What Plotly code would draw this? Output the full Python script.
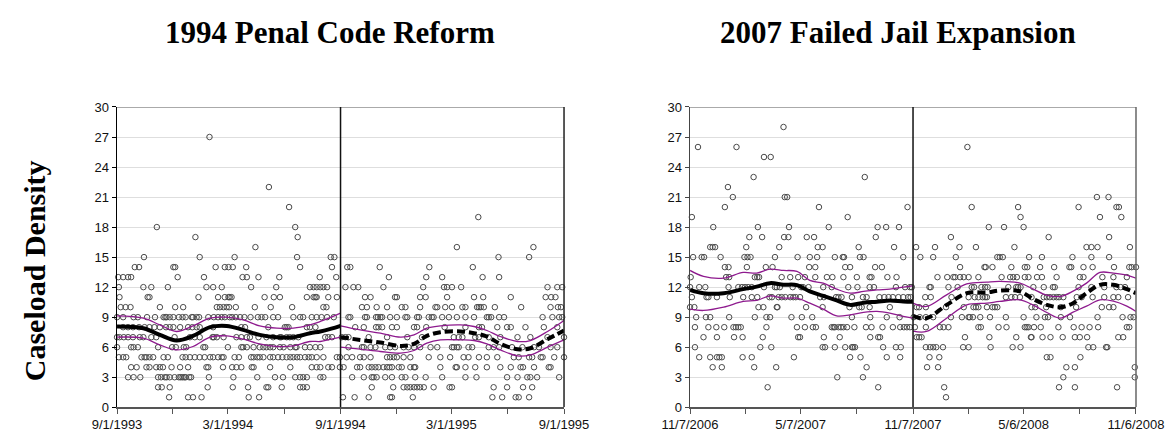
import pandas as pd
import plotly.graph_objects as go

# ---------------- data (day offsets from panel start, integer caseload values) ----------------
LEFT_START, LEFT_END, LEFT_CUT = "1993-09-01", "1995-09-01", "1994-09-01"
RIGHT_START, RIGHT_END, RIGHT_CUT = "2006-11-07", "2008-11-06", "2007-11-07"

left_points = {
    27: [151], 22: [248], 20: [281], 19: [590], 18: [65, 291], 17: [128, 295],
    16: [226, 555, 680],
    15: [44, 135, 192, 294, 349, 355, 623, 673],
    14: [29, 36, 92, 95, 161, 176, 182, 189, 211, 299, 351, 376, 381, 429, 510, 581],
    13: [2, 10, 18, 23, 99, 142, 205, 212, 231, 265, 331, 358, 444, 505, 531, 597, 624],
    12: [3, 43, 56, 83, 146, 157, 171, 219, 260, 315, 321, 326, 332, 337, 343, 373, 386, 394,
         435, 500, 534, 539, 547, 562, 703, 719, 727],
    11: [4, 50, 53, 133, 165, 176, 182, 184, 187, 241, 256, 266, 310, 321, 324, 326, 345, 359,
         405, 414, 454, 457, 495, 504, 539, 583, 598, 643, 700, 709, 716],
    10: [6, 14, 22, 70, 95, 108, 163, 168, 174, 179, 183, 194, 225, 251, 286, 337, 342, 400, 408,
         424, 441, 465, 471, 495, 520, 523, 536, 547, 564, 569, 588, 591, 594, 599, 617, 660, 708,
         720, 725],
    9: [0, 10, 27, 34, 49, 62, 76, 79, 81, 86, 92, 101, 107, 112, 122, 124, 130, 134, 149, 158,
        165, 171, 176, 184, 188, 194, 201, 208, 218, 230, 236, 242, 255, 263, 288, 299, 304, 318,
        326, 334, 343, 354, 378, 381, 405, 408, 423, 426, 430, 433, 446, 457, 471, 474, 490, 493,
        509, 514, 517, 531, 542, 555, 569, 583, 604, 607, 611, 624, 632, 695, 711, 722, 727],
    8: [10, 18, 26, 36, 45, 53, 61, 70, 80, 86, 92, 103, 116, 123, 130, 135, 157, 203, 209, 247,
        274, 277, 280, 310, 315, 324, 389, 403, 423, 427, 433, 449, 457, 485, 490, 505, 535, 569,
        591, 596, 621, 637, 643, 667, 697, 719],
    7: [0, 4, 11, 18, 26, 37, 43, 56, 64, 94, 119, 127, 135, 156, 158, 163, 174, 195, 203, 212,
        217, 231, 244, 255, 266, 268, 277, 282, 288, 296, 340, 345, 351, 367, 373, 378, 411, 441,
        474, 498, 550, 558, 564, 585, 591, 607, 626, 654, 675, 703, 730],
    6: [0, 23, 27, 34, 67, 90, 96, 109, 113, 141, 144, 181, 203, 206, 212, 223, 233, 239, 244,
        250, 255, 266, 272, 283, 291, 293, 307, 315, 324, 332, 378, 400, 403, 414, 422, 438, 446,
        454, 468, 476, 485, 495, 512, 523, 547, 550, 555, 558, 574, 580, 607, 615, 624, 645, 662,
        681, 689, 708, 719],
    5: [3, 10, 15, 40, 45, 48, 53, 59, 76, 83, 107, 112, 119, 127, 135, 143, 152, 157, 165, 171,
        174, 192, 199, 219, 223, 229, 233, 239, 250, 255, 263, 270, 277, 283, 288, 294, 299, 307,
        313, 318, 326, 337, 359, 364, 375, 384, 397, 403, 414, 441, 446, 452, 457, 468, 479, 509,
        528, 544, 566, 574, 591, 604, 621, 648, 656, 673, 678, 692, 695, 714, 730],
    4: [23, 32, 48, 53, 64, 70, 75, 89, 103, 116, 146, 149, 173, 188, 195, 203, 220, 223, 250,
        283, 318, 326, 332, 345, 351, 364, 370, 392, 397, 411, 416, 422, 427, 435, 441, 445, 449,
        460, 465, 479, 485, 487, 528, 553, 555, 569, 585, 604, 626, 643, 659, 663, 681, 705, 708],
    3: [18, 27, 38, 67, 72, 78, 81, 86, 94, 101, 104, 107, 110, 112, 118, 121, 150, 190, 229,
        258, 271, 291, 299, 304, 310, 332, 337, 384, 403, 416, 419, 424, 438, 449, 465, 471, 487,
        504, 531, 569, 587, 637, 654, 670, 675, 686, 722],
    2: [67, 73, 86, 148, 189, 214, 244, 247, 269, 299, 304, 310, 416, 451, 468, 474, 479, 485,
        490, 495, 501, 517, 543, 547, 615, 637, 663, 678],
    1: [85, 116, 124, 138, 215, 232, 369, 388, 411, 446, 449, 483, 613, 629, 651, 656, 673],
}

right_points = {
    28: [153], 26: [13, 76, 454], 25: [121, 132], 23: [104, 286], 22: [62],
    21: [70, 155, 159, 666, 685],
    20: [57, 211, 356, 461, 537, 636, 698, 702],
    19: [3, 258, 541, 671, 706],
    18: [38, 111, 162, 227, 307, 321, 342, 489, 514, 546],
    17: [97, 118, 154, 161, 191, 203, 304, 427, 587, 686],
    16: [33, 37, 41, 92, 146, 209, 217, 276, 334, 370, 401, 441, 468, 531, 649, 657, 667, 720],
    15: [5, 19, 23, 50, 89, 94, 99, 139, 176, 196, 208, 237, 250, 252, 278, 284, 349, 377, 398,
         435, 503, 507, 512, 555, 576, 626, 657, 686],
    14: [57, 63, 93, 124, 135, 195, 205, 254, 262, 303, 314, 442, 482, 484, 495, 526, 548, 552,
         573, 596, 621, 624, 644, 659, 694, 719, 723, 730],
    13: [1, 59, 64, 106, 110, 113, 150, 164, 177, 188, 205, 224, 233, 251, 273, 294, 297, 323,
         338, 405, 421, 431, 434, 442, 448, 456, 472, 510, 524, 529, 535, 548, 554, 568, 576, 600,
         638, 644, 675, 693, 715],
    12: [0, 15, 25, 63, 79, 85, 90, 95, 101, 121, 139, 142, 147, 168, 182, 185, 194, 218, 232,
         259, 274, 294, 301, 337, 352, 360, 363, 392, 394, 423, 438, 461, 465, 477, 483, 487, 521,
         534, 537, 541, 562, 579, 594, 597, 636, 657, 678, 698, 705, 712],
    11: [3, 27, 30, 44, 65, 87, 101, 110, 130, 134, 145, 150, 156, 164, 169, 173, 180, 213, 219,
         239, 243, 248, 265, 283, 289, 310, 318, 325, 332, 341, 349, 357, 361, 385, 394, 428, 456,
         466, 472, 479, 483, 486, 517, 526, 532, 540, 559, 579, 584, 589, 595, 600, 604, 611, 633,
         641, 659, 678, 693, 701, 717],
    10: [0, 7, 112, 120, 142, 143, 190, 217, 261, 277, 281, 294, 327, 371, 375, 386, 419, 448,
         464, 468, 472, 486, 495, 499, 503, 559, 565, 583, 607, 632, 674, 686, 693],
    9: [10, 26, 33, 64, 106, 125, 131, 166, 183, 200, 265, 295, 322, 343, 366, 376, 386, 398,
        427, 445, 456, 458, 463, 475, 491, 517, 546, 567, 581, 586, 607, 622, 667, 708, 721, 726],
    8: [8, 30, 43, 56, 71, 75, 79, 83, 125, 175, 188, 201, 206, 232, 235, 237, 243, 247, 251,
        257, 269, 288, 297, 315, 332, 344, 350, 355, 360, 368, 386, 409, 415, 423, 472, 476, 505,
        518, 548, 551, 554, 563, 574, 603, 628, 641, 654, 668, 715, 719],
    7: [22, 44, 72, 86, 119, 177, 180, 219, 245, 295, 308, 311, 371, 375, 379, 450, 490, 534,
        558, 559, 577, 590, 610, 630, 638, 650, 701, 709],
    6: [8, 115, 133, 217, 221, 237, 254, 265, 267, 270, 316, 337, 345, 386, 393, 398, 403, 414,
        447, 456, 492, 528, 541, 652, 660, 681, 683],
    5: [15, 33, 44, 48, 52, 86, 101, 170, 262, 279, 322, 344, 392, 408, 584, 590, 639],
    4: [37, 52, 105, 141, 289, 388, 406, 616, 630, 728],
    3: [241, 283, 611, 728],
    2: [127, 308, 416, 604, 630, 699],
    1: [419],
}

# smoothed trend (center) and confidence band (hi / lo), pre and post intervention
left_pre_days = [0, 43, 70, 97, 124, 152, 179, 206, 233, 261, 288, 315, 332, 350, 365]
left_pre_mid = [8.07, 7.9, 7.23, 6.67, 7.13, 8.0, 8.13, 7.73, 7.23, 7.0, 7.0, 7.4, 7.57, 7.85, 8.13]
left_pre_hi = [9.13, 8.9, 8.23, 7.57, 8.13, 8.9, 9.0, 8.73, 8.13, 7.9, 7.9, 8.23, 8.57, 9.0, 9.4]
left_pre_lo = [7.0, 6.9, 6.23, 5.73, 6.07, 7.0, 7.13, 6.8, 6.33, 6.07, 6.13, 6.57, 6.57, 6.8, 7.0]

left_post_days = [365, 397, 430, 463, 485, 506, 528, 561, 583, 604, 626, 654, 675, 703, 730]
left_post_mid = [7.0, 6.73, 6.47, 6.13, 6.33, 7.13, 7.5, 7.57, 7.4, 7.07, 6.33, 5.8, 5.9, 6.8, 7.67]
left_post_hi = [8.13, 7.73, 7.4, 7.0, 7.23, 7.9, 8.13, 8.23, 8.07, 7.67, 7.07, 6.57, 6.67, 7.57, 8.67]
left_post_lo = [6.0, 5.8, 5.57, 5.4, 5.67, 6.4, 6.73, 6.73, 6.67, 6.33, 5.73, 5.13, 5.23, 6.0, 6.73]

right_pre_days = [0, 22, 55, 87, 109, 131, 153, 175, 196, 218, 240, 262, 284, 306, 327, 349, 365]
right_pre_mid = [11.73, 11.4, 11.4, 11.8, 12.05, 12.4, 12.25, 12.2, 11.57, 11.13, 10.67, 10.23,
                 10.45, 10.55, 10.67, 10.57, 10.55]
right_pre_hi = [13.67, 13.07, 12.9, 13.47, 13.4, 13.8, 13.67, 13.57, 12.67, 12.4, 11.8, 11.4,
                11.57, 11.73, 11.8, 12.0, 12.13]
right_pre_lo = [9.8, 9.67, 10.0, 10.57, 10.67, 11.13, 10.9, 10.9, 10.4, 9.8, 9.13, 9.23, 9.47,
                9.57, 9.4, 9.07, 8.9]

right_post_days = [365, 387, 420, 453, 486, 507, 540, 562, 584, 606, 627, 649, 671, 693, 715, 730]
right_post_mid = [9.1, 8.9, 10.23, 11.4, 11.47, 11.67, 11.57, 10.8, 10.23, 10.0, 10.4, 11.4,
                  12.23, 12.23, 11.8, 11.4]
right_post_hi = [10.4, 10.07, 11.23, 12.33, 12.5, 12.57, 12.4, 11.8, 11.2, 11.07, 11.6, 12.4,
                 13.47, 13.4, 13.2, 12.9]
right_post_lo = [7.6, 7.57, 8.9, 10.23, 10.4, 10.57, 10.73, 10.2, 9.47, 8.9, 9.5, 10.1, 10.73,
                 10.6, 10.1, 9.57]

left_tickvals = ["1993-09-01", "1993-12-01", "1994-03-01", "1994-06-01", "1994-09-01",
                 "1994-12-01", "1995-03-01", "1995-06-01", "1995-09-01"]
left_ticktext = ["9/1/1993", "", "3/1/1994", "", "9/1/1994", "", "3/1/1995", "", "9/1/1995"]
right_tickvals = ["2006-11-07", "2007-02-06", "2007-05-07", "2007-08-07", "2007-11-07",
                  "2008-02-06", "2008-05-06", "2008-08-06", "2008-11-06"]
right_ticktext = ["11/7/2006", "", "5/7/2007", "", "11/7/2007", "", "5/6/2008", "", "11/6/2008"]
y_ticks = [0, 3, 6, 9, 12, 15, 18, 21, 24, 27, 30]

titles = ["1994 Penal Code Reform", "2007 Failed Jail Expansion"]
y_title = "Caseload Density"

# ---------------- figure ----------------
PURPLE = "#8e1a8e"
TICK_FONT = dict(family="Liberation Sans, Arial", size=13, color="#111")
SERIF = "Liberation Serif, Times New Roman, serif"


def to_dates(start, days):
    return pd.Timestamp(start) + pd.to_timedelta(days, unit="D")


fig = go.Figure()

panels = [
    ("x", "y", LEFT_START, left_points,
     (left_pre_days, left_pre_mid, left_pre_hi, left_pre_lo),
     (left_post_days, left_post_mid, left_post_hi, left_post_lo)),
    ("x2", "y2", RIGHT_START, right_points,
     (right_pre_days, right_pre_mid, right_pre_hi, right_pre_lo),
     (right_post_days, right_post_mid, right_post_hi, right_post_lo)),
]

for xa, ya, start, pts, pre, post in panels:
    xs, ys = [], []
    for val, days in pts.items():
        xs.extend(days)
        ys.extend([val] * len(days))
    fig.add_trace(go.Scatter(
        x=to_dates(start, xs), y=ys, mode="markers", xaxis=xa, yaxis=ya,
        marker=dict(symbol="circle-open", size=5.5, color="#4a4a4a", line=dict(width=1)),
        cliponaxis=False, showlegend=False, hoverinfo="skip"))
    for seg, dash in ((pre, "solid"), (post, "8px,4px")):
        d, mid, hi, lo = seg
        xd = to_dates(start, d)
        for band in (hi, lo):
            fig.add_trace(go.Scatter(
                x=xd, y=band, mode="lines", xaxis=xa, yaxis=ya,
                line=dict(color=PURPLE, width=1.3, shape="spline"),
                showlegend=False, hoverinfo="skip"))
        fig.add_trace(go.Scatter(
            x=xd, y=mid, mode="lines", xaxis=xa, yaxis=ya,
            line=dict(color="black", width=4, shape="spline", dash=dash),
            showlegend=False, hoverinfo="skip"))

Y_DOM = [0.0616, 0.7535]
common_x = dict(type="date", showgrid=False, zeroline=False, showline=True, linecolor="#555",
                linewidth=1.5, ticks="outside", ticklen=5, tickcolor="#555", tickwidth=1,
                tickfont=TICK_FONT, tickmode="array", automargin=False)
common_y = dict(range=[0, 30], tickmode="array", tickvals=y_ticks, showgrid=True,
                gridcolor="#dedede", gridwidth=1, zeroline=False, showline=True,
                ticks="outside", ticklen=4, tickwidth=1, tickfont=TICK_FONT, automargin=False)

fig.update_layout(
    width=1168, height=434, margin=dict(l=0, r=0, t=0, b=0, pad=0),
    paper_bgcolor="white", plot_bgcolor="white", showlegend=False,
    xaxis=dict(domain=[0.1002, 0.4829], range=[LEFT_START, LEFT_END], anchor="y",
               tickvals=left_tickvals, ticktext=left_ticktext, **common_x),
    xaxis2=dict(domain=[0.5908, 0.9726], range=[RIGHT_START, RIGHT_END], anchor="y2",
                tickvals=right_tickvals, ticktext=right_ticktext, **common_x),
    yaxis=dict(domain=Y_DOM, anchor="x", linecolor="black", linewidth=1.5, tickcolor="black",
               **common_y),
    yaxis2=dict(domain=Y_DOM, anchor="x2", linecolor="#444", linewidth=1.5, tickcolor="#444",
                **common_y),
)

shapes = []
for xa, ya, cut, edge_color in (("x", "y", LEFT_CUT, "#222"), ("x2", "y2", RIGHT_CUT, "#666")):
    shapes.append(dict(type="line", xref=f"{xa} domain", yref=ya, x0=0, x1=1, y0=30, y1=30,
                       line=dict(color="#aaaaaa", width=2)))
    shapes.append(dict(type="line", xref=xa, yref=ya, x0=cut, x1=cut, y0=0, y1=30,
                       line=dict(color="#111", width=1.5)))
    shapes.append(dict(type="line", xref=f"{xa} domain", yref=ya, x0=1, x1=1, y0=0, y1=30,
                       line=dict(color=edge_color, width=1.5)))
fig.update_layout(shapes=shapes)

for text, xc in ((titles[0], 0.2825), (titles[1], 0.769)):
    fig.add_annotation(text="<b>" + text + "</b>", x=xc, y=0.925, xref="paper", yref="paper",
                       showarrow=False, font=dict(family=SERIF, size=31, color="black"),
                       xanchor="center", yanchor="middle")
fig.add_annotation(text="<b>" + y_title + "</b>", x=34 / 1168, y=0.375, xref="paper",
                   yref="paper", showarrow=False, textangle=-90,
                   font=dict(family=SERIF, size=30, color="black"),
                   xanchor="center", yanchor="middle")

# remove the browser's default 8px body margin so the figure sits at the page origin
fig.write_html("out.html", config={"displayModeBar": False, "staticPlot": True},
               post_script="document.body.style.margin='0';document.body.style.padding='0';"
                           "document.body.style.overflow='hidden';")
